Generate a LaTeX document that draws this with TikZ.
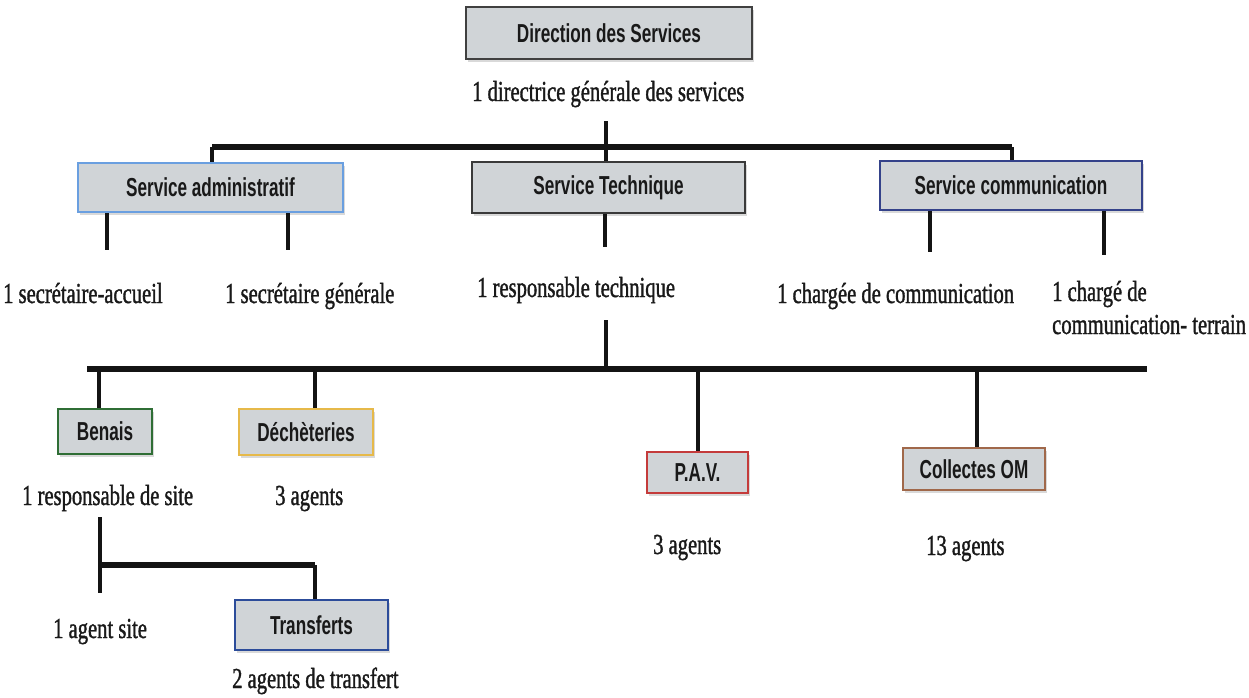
\documentclass[tikz,border=0pt]{standalone}
\usepackage{fontspec}
\newfontfamily\boxfont{Liberation Sans}[FakeStretch=0.66]
\newfontfamily\capfont{Liberation Serif}[FakeStretch=0.71,FakeBold=1.2]
\usetikzlibrary{shadows}
\definecolor{boxgray}{RGB}{208,212,215}
\definecolor{dircol}{RGB}{64,64,64}
\definecolor{admcol}{RGB}{106,159,224}
\definecolor{techcol}{RGB}{58,58,58}
\definecolor{comcol}{RGB}{52,66,138}
\definecolor{bencol}{RGB}{47,110,53}
\definecolor{deccol}{RGB}{230,185,74}
\definecolor{pavcol}{RGB}{196,59,59}
\definecolor{colcol}{RGB}{160,104,74}
\definecolor{trcol}{RGB}{44,76,154}
\definecolor{linecol}{RGB}{20,20,20}
\tikzset{
  orgbox/.style={draw=#1, line width=2pt, fill=boxgray, inner sep=0pt,
    drop shadow={shadow xshift=2pt, shadow yshift=-3pt, fill=black!25, opacity=0.6},
    font=\boxfont\bfseries\fontsize{26}{30}\selectfont, text=black!90},
  capt/.style={anchor=base west, inner sep=0pt, font=\capfont\fontsize{29}{35}\selectfont, text=black!90},
  hline/.style={draw=linecol, line width=6pt},
  vline/.style={draw=linecol, line width=4pt},
}
\begin{document}
\begin{tikzpicture}[x=1pt,y=-1pt]
\useasboundingbox (0,0) rectangle (1249,697);
% boxes
\node[orgbox=dircol, minimum width=286pt, minimum height=52pt] (dir) at (609,33) {Direction des Services};
\node[orgbox=admcol, minimum width=265pt, minimum height=49pt] (adm) at (210.5,187.5) {Service administratif};
\node[orgbox=techcol, minimum width=273pt, minimum height=51pt] (tech) at (608.5,187.5) {Service Technique};
\node[orgbox=comcol, minimum width=262pt, minimum height=49pt] (com) at (1011,185.5) {Service communication};
\node[orgbox=bencol, minimum width=94pt, minimum height=45pt] (ben) at (105,431.5) {Benais};
\node[orgbox=deccol, minimum width=134pt, minimum height=46pt] (dec) at (306,432) {Déchèteries};
\node[orgbox=pavcol, minimum width=101pt, minimum height=41pt] (pav) at (697.5,472.5) {P.A.V.};
\node[orgbox=colcol, minimum width=142pt, minimum height=42pt] (col) at (974,469) {Collectes OM};
\node[orgbox=trcol, minimum width=153pt, minimum height=50pt] (tr) at (311.5,625) {Transferts};
% captions
\node[capt] (dirc) at (472,101) {1 directrice générale des services};
\node[capt] (sa) at (3,303) {1 secrétaire-accueil};
\node[capt] (sg) at (225,303) {1 secrétaire générale};
\node[capt] (rt) at (477,297) {1 responsable technique};
\node[capt] (cc) at (777,303) {1 chargée de communication};
\node[capt] (ct1) at (1052,301) {1 chargé de};
\node[capt] (ct2) at (1052,334) {communication- terrain};
\node[capt] (rs) at (22,505) {1 responsable de site};
\node[capt] (ad) at (275,505) {3 agents};
\node[capt] (ap) at (653,554) {3 agents};
\node[capt] (ac) at (926,555) {13 agents};
\node[capt] (as) at (53,638) {1 agent site};
\node[capt] (at) at (232,688) {2 agents de transfert};
% coordinates
\coordinate (d0) at (606,121);
\coordinate (bt) at (606,147);
\coordinate (btl) at (212,147);
\coordinate (btr) at (1012,147);
\coordinate (a1) at (107,250);
\coordinate (a2) at (288,250);
\coordinate (t1) at (605,247);
\coordinate (t2) at (606,320);
\coordinate (bb) at (606,369);
\coordinate (bbl) at (87,369);
\coordinate (bbr) at (1147,369);
\coordinate (c1) at (930,252);
\coordinate (c2) at (1104,255);
\coordinate (s0) at (100,517);
\coordinate (s1) at (100,593);
\coordinate (s2) at (100,565);
\coordinate (s3) at (315,565);
% connectors
\draw[vline] (d0) -- (bt);
\draw[hline] (btl) -- (btr);
\draw[vline] (btl) -- (btl |- adm.north);
\draw[vline] (bt) -- (bt |- tech.north);
\draw[vline] (btr) -- (btr |- com.north);
\draw[vline] (a1 |- adm.south) -- (a1);
\draw[vline] (a2 |- adm.south) -- (a2);
\draw[vline] (c1 |- com.south) -- (c1);
\draw[vline] (c2 |- com.south) -- (c2);
\draw[vline] (t1 |- tech.south) -- (t1);
\draw[vline] (t2) -- (bb);
\draw[hline] (bbl) -- (bbr);
\draw[vline] (bbl -| 99,0) -- (99,0 |- ben.north);
\draw[vline] (315,369) -- (315,0 |- dec.north);
\draw[vline] (698,369) -- (698,0 |- pav.north);
\draw[vline] (977,369) -- (977,0 |- col.north);
\draw[vline] (s0) -- (s1);
\draw[hline] (s2) -- (s3);
\draw[vline] (s3) -- (s3 |- tr.north);
\end{tikzpicture}
\end{document}
